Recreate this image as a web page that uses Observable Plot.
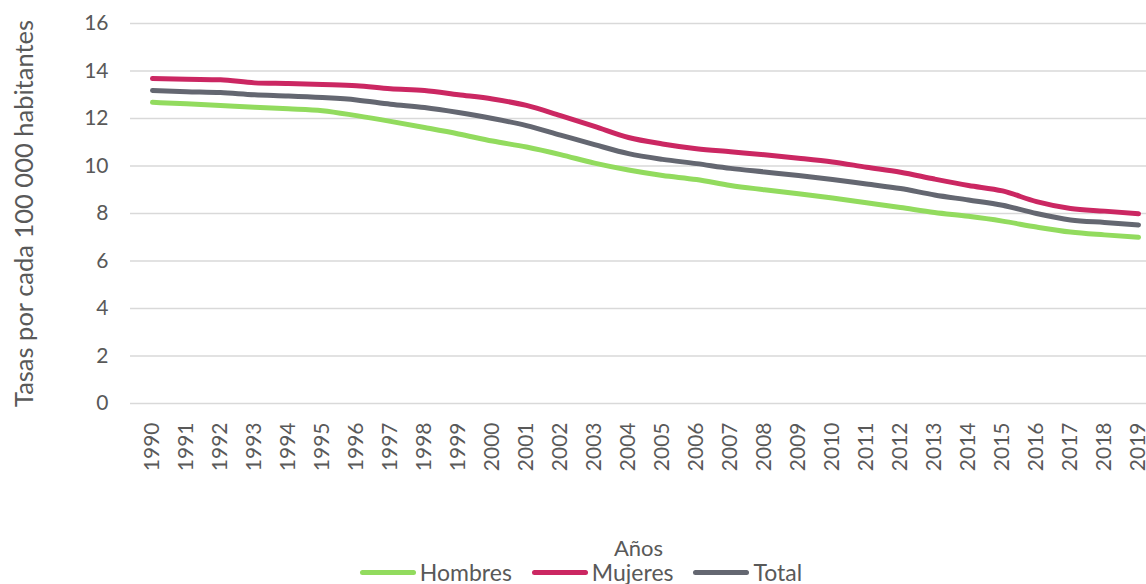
<!DOCTYPE html>
<html><head><meta charset="utf-8">
<script src="https://cdn.jsdelivr.net/npm/d3@7"></script>
<script src="https://cdn.jsdelivr.net/npm/@observablehq/plot@0.6"></script>
<style>
body{margin:0;background:#fff;font-family:Lato,"Liberation Sans",sans-serif;position:relative;width:1146px;height:584px;overflow:hidden;}
#legend{position:absolute;left:0;top:560px;width:1146px;display:flex;justify-content:center;align-items:center;height:24px;line-height:24px;font-size:23px;color:#595959;gap:20px;margin-left:8px;}
.item{display:flex;align-items:center;gap:4px;}
.sw{width:56px;height:5px;border-radius:3px;}
</style></head><body>
<div id="chart"></div>
<div id="legend"></div>
<script>
const years = d3.range(1990, 2020);
const hombres = [12.68,12.62,12.55,12.47,12.41,12.33,12.12,11.88,11.62,11.35,11.05,10.8,10.48,10.12,9.83,9.6,9.43,9.18,9.0,8.83,8.65,8.45,8.25,8.04,7.88,7.68,7.43,7.22,7.1,7.0];
const mujeres = [13.68,13.65,13.63,13.5,13.47,13.43,13.38,13.25,13.18,13.0,12.82,12.55,12.12,11.67,11.2,10.93,10.73,10.6,10.47,10.33,10.17,9.95,9.74,9.45,9.18,8.95,8.5,8.21,8.1,7.99];
const total = [13.18,13.13,13.09,13.0,12.95,12.88,12.78,12.6,12.46,12.25,12.0,11.7,11.3,10.9,10.52,10.28,10.1,9.9,9.75,9.6,9.43,9.24,9.05,8.78,8.57,8.35,8.0,7.73,7.62,7.52];
const seriesNames = ["Hombres","Mujeres","Total"];
const seriesColors = ["#92DB5E","#CB2762","#646771"];
const yTicks = [0,2,4,6,8,10,12,14,16];
const xTitle = "Años";
const yTitle = "Tasas por cada 100 000 habitantes";

const allValues = [hombres, mujeres, total];
const data = [];
seriesNames.forEach((s, i) => years.forEach((y, j) => data.push({serie: s, year: y, value: allValues[i][j]})));

const chart = Plot.plot({
  width: 1146, height: 560,
  marginLeft: 130, marginRight: 0, marginTop: 23, marginBottom: 157,
  style: {fontFamily: "Lato, 'Liberation Sans', sans-serif", color: "#595959"},
  x: {type: "linear", domain: [1989.353, 2019.235]},
  y: {domain: [0, 16]},
  color: {domain: seriesNames, range: seriesColors},
  marks: [
    Plot.ruleY(yTicks, {stroke: "#d9d9d9", strokeWidth: 1.5}),
    Plot.axisY(yTicks, {tickSize: 0, tickPadding: 22, fontSize: 21, label: yTitle, labelAnchor: "center", labelOffset: 116, labelArrow: "none"}),
    Plot.axisX(years, {tickSize: 0, tickPadding: 19, tickRotate: -90, fontSize: 21, tickFormat: d => String(d), label: xTitle, labelAnchor: "center", labelOffset: 152, labelArrow: "none"}),
    Plot.line(data, {x: "year", y: "value", z: "serie", stroke: "serie", strokeWidth: 5, strokeLinecap: "round", strokeLinejoin: "round", curve: "monotone-x"})
  ]
});
d3.select(chart).selectAll("text").attr("fill", "#595959");
d3.select(chart).selectAll("[aria-label='y-axis label']").attr("font-size", 25.5);
d3.select(chart).selectAll("[aria-label='x-axis label']").attr("font-size", 22);
document.getElementById("chart").appendChild(chart);

const leg = document.getElementById("legend");
seriesNames.forEach((s, i) => {
  const it = document.createElement("div"); it.className = "item";
  const sw = document.createElement("div"); sw.className = "sw"; sw.style.background = seriesColors[i];
  const tx = document.createElement("span"); tx.textContent = s;
  it.appendChild(sw); it.appendChild(tx); leg.appendChild(it);
});
</script>
</body></html>
